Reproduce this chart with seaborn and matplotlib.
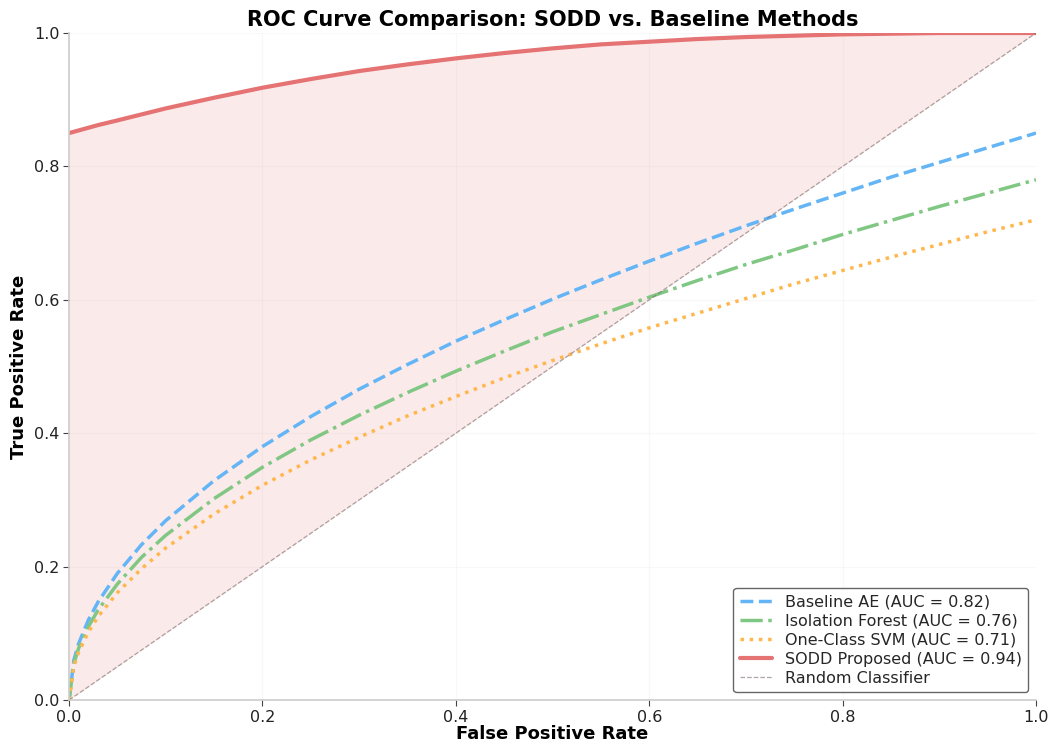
import numpy as np
import matplotlib
matplotlib.use("Agg")
import matplotlib.pyplot as plt
import seaborn as sns

# false positive rate grid
fpr = [0.0, 0.005, 0.01, 0.02, 0.03, 0.05, 0.075, 0.1, 0.15, 0.2, 0.25, 0.3,
       0.35, 0.4, 0.45, 0.5, 0.55, 0.6, 0.65, 0.7, 0.75, 0.8, 0.85, 0.9,
       0.95, 1.0]

tpr_ae = [0.0, 0.06, 0.085, 0.12, 0.147, 0.19, 0.233, 0.269, 0.329, 0.38,
          0.425, 0.466, 0.503, 0.538, 0.57, 0.601, 0.63, 0.658, 0.685, 0.711,
          0.736, 0.76, 0.784, 0.806, 0.828, 0.85]
tpr_if = [0.0, 0.055, 0.078, 0.11, 0.135, 0.174, 0.214, 0.247, 0.302, 0.349,
          0.39, 0.427, 0.461, 0.493, 0.523, 0.552, 0.578, 0.604, 0.629, 0.653,
          0.675, 0.698, 0.719, 0.74, 0.76, 0.78]
tpr_svm = [0.0, 0.051, 0.072, 0.102, 0.125, 0.161, 0.197, 0.228, 0.279, 0.322,
           0.36, 0.394, 0.426, 0.455, 0.483, 0.509, 0.534, 0.558, 0.58, 0.602,
           0.624, 0.644, 0.664, 0.683, 0.702, 0.72]
tpr_sodd = [0.85, 0.852, 0.854, 0.858, 0.862, 0.869, 0.878, 0.887, 0.903,
            0.918, 0.931, 0.943, 0.953, 0.962, 0.970, 0.977, 0.983, 0.987,
            0.991, 0.994, 0.996, 0.998, 0.999, 1.0, 1.0, 1.0]

labels = ["Baseline AE (AUC = 0.82)", "Isolation Forest (AUC = 0.76)",
          "One-Class SVM (AUC = 0.71)", "SODD Proposed (AUC = 0.94)"]
colors = ["#64B5F6", "#81C784", "#FFB74D", "#E57373"]

sns.set_style("whitegrid")
plt.rcParams['font.family'] = ['DejaVu Sans']

fig, ax = plt.subplots(figsize=(10.51, 7.44), dpi=100)
fig.subplots_adjust(left=0.0657, right=0.9857, top=0.9556, bottom=0.0591)

sns.lineplot(x=fpr, y=tpr_ae, ax=ax, color=colors[0], linestyle="--",
             linewidth=2.5, label=labels[0])
sns.lineplot(x=fpr, y=tpr_if, ax=ax, color=colors[1], linestyle="-.",
             linewidth=2.5, label=labels[1])
sns.lineplot(x=fpr, y=tpr_svm, ax=ax, color=colors[2], linestyle=":",
             linewidth=2.5, label=labels[2])
sns.lineplot(x=fpr, y=tpr_sodd, ax=ax, color=colors[3], linestyle="-",
             linewidth=3, label=labels[3])
sns.lineplot(x=[0, 1], y=[0, 1], ax=ax, color="#7a6a6a", linestyle="--",
             linewidth=0.9, alpha=0.6, label="Random Classifier")

# shaded area between proposed curve and diagonal
ax.fill_between(fpr, tpr_sodd, fpr, color=colors[3], alpha=0.15, linewidth=0)

ax.set_xlim(0, 1)
ax.set_ylim(0, 1)
ax.set_xticks([0, 0.2, 0.4, 0.6, 0.8, 1.0])
ax.set_yticks([0, 0.2, 0.4, 0.6, 0.8, 1.0])
ax.tick_params(axis="both", labelsize=11.5, length=4, color="#444444",
               labelcolor="#222222", left=True, bottom=True, pad=3)
ax.grid(True, alpha=0.12, linewidth=0.8)

ax.set_xlabel("False Positive Rate", fontsize=13, fontweight="bold",
              labelpad=0, color="black")
ax.set_ylabel("True Positive Rate", fontsize=13, fontweight="bold",
              color="black", labelpad=4)
ax.set_title("ROC Curve Comparison: SODD vs. Baseline Methods",
             fontsize=15, fontweight="bold", pad=5, color="black")

sns.despine(ax=ax)
for s in ["left", "bottom"]:
    ax.spines[s].set_color("#cccccc")
    ax.spines[s].set_linewidth(1.2)

leg = ax.legend(loc="lower right", fontsize=11.5, frameon=True, fancybox=True,
                labelspacing=0.25, borderaxespad=0.5)
leg.get_frame().set_edgecolor("#555555")
leg.get_frame().set_alpha(0.9)

fig.savefig("out.png", dpi=100)
